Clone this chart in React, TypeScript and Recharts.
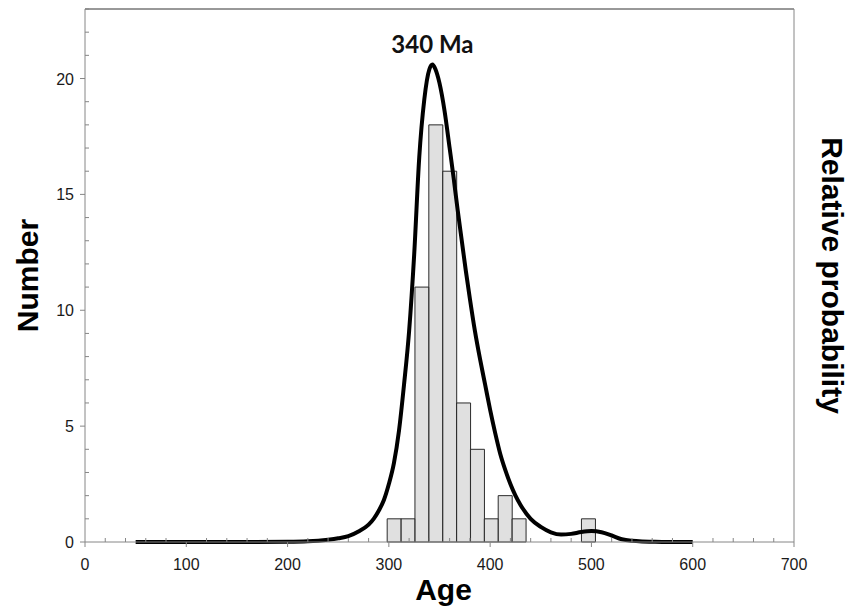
import { ComposedChart, Bar, Line, XAxis, YAxis, ReferenceDot, ReferenceLine } from "recharts";

// histogram bins (bin centre age, Ma) and counts
const binCenters = [305.2, 318.9, 332.6, 346.3, 360.0, 373.7, 387.4, 401.1, 414.8, 428.5, 497.0];
const binCounts = [1, 1, 11, 18, 16, 6, 4, 1, 2, 1, 1];

// probability density curve (scaled to the count axis)
const curveAges = [
    50, 100, 150, 200, 220, 240, 250, 260, 270, 280, 285, 290, 295, 300, 305, 310, 315, 320, 325, 330,
    335, 340, 343, 346, 350, 355, 360, 364, 368, 372, 376, 380, 385, 390, 395, 400, 405, 410, 415, 420,
    425, 430, 440, 450, 460, 470, 480, 490, 500, 510, 520, 530, 540, 550, 560, 575, 600,
];
const curveValues = [
    0, 0, 0, 0.01, 0.03, 0.1, 0.16, 0.25, 0.45, 0.75, 1.0, 1.35, 1.8, 2.5, 3.4, 4.8, 6.8, 9.1, 12.4, 16.6,
    19.1, 20.4, 20.6, 20.4, 19.8, 18.6, 17.0, 15.7, 14.3, 13.0, 11.7, 10.5, 9.1, 7.9, 6.8, 5.7, 4.7, 3.8, 3.1, 2.5,
    2.0, 1.6, 1.0, 0.65, 0.42, 0.32, 0.35, 0.43, 0.47, 0.42, 0.28, 0.12, 0.05, 0.02, 0.01, 0, 0,
];

const xTicks = [
    0, 20, 40, 60, 80, 100, 120, 140, 160, 180, 200, 220, 240, 260, 280, 300, 320, 340,
    360, 380, 400, 420, 440, 460, 480, 500, 520, 540, 560, 580, 600, 620, 640, 660, 680, 700,
];
const yTicks = [0, 1, 2, 3, 4, 5, 6, 7, 8, 9, 10, 11, 12, 13, 14, 15, 16, 17, 18, 19, 20, 21, 22, 23];

const peakLabel = "340 Ma";

const histData = binCenters.map((age, i) => ({ age, count: binCounts[i] }));
const curveData = curveAges.map((age, i) => ({ age, prob: curveValues[i] }));

const FONT = "'Liberation Sans', Arial, sans-serif";
const AXIS = "#868686";

function XTick(props: any) {
    const { x, y, payload } = props;
    const major = payload.value % 100 === 0;
    return (
        <g>
            <line x1={x} x2={x} y1={y} y2={major ? y + 5 : y - 4} stroke={AXIS} />
            {major && (
                <text x={x} y={y + 28} textAnchor="middle" fontSize={16} fontFamily={FONT} fill="#1a1a1a">
                    {payload.value}
                </text>
            )}
        </g>
    );
}

function YTick(props: any) {
    const { x, y, payload } = props;
    const major = payload.value % 5 === 0;
    return (
        <g>
            <line x1={x} x2={major ? x - 5 : x + 4} y1={y} y2={y} stroke={AXIS} />
            {major && (
                <text x={x - 11} y={y + 6} textAnchor="end" fontSize={16} fontFamily={FONT} fill="#1a1a1a">
                    {payload.value}
                </text>
            )}
        </g>
    );
}

const titleStyle = { fontSize: 30, fontWeight: 700, fontFamily: FONT, fill: "#000" };

export default function App() {
    return (
        <div style={{ position: "absolute", left: 0, top: 0 }}>
            <ComposedChart
                width={851}
                height={608}
                data={histData}
                barCategoryGap={0}
                barGap={0}
                margin={{ top: 9, right: 0, bottom: 0, left: 0 }}
            >
                <XAxis
                    dataKey="age"
                    type="number"
                    domain={[0, 700]}
                    ticks={xTicks}
                    interval={0}
                    tickSize={0}
                    tickMargin={0}
                    tickLine={false}
                    axisLine={{ stroke: AXIS }}
                    tick={<XTick />}
                    height={66}
                    label={(p: any) => {
                        const vb = p.viewBox ?? { x: 85, y: 542, width: 709 };
                        return (
                            <text x={vb.x + vb.width / 2 + 4} y={vb.y + 58} textAnchor="middle" {...titleStyle}>
                                Age
                            </text>
                        );
                    }}
                />
                <XAxis xAxisId="curve" dataKey="age" type="number" domain={[0, 700]} hide />
                <YAxis
                    yAxisId="left"
                    domain={[0, 23]}
                    ticks={yTicks}
                    interval={0}
                    tickSize={0}
                    tickMargin={0}
                    tickLine={false}
                    axisLine={{ stroke: AXIS }}
                    tick={<YTick />}
                    width={85}
                    label={(p: any) => {
                        const vb = p.viewBox ?? { x: 0, y: 9, height: 533 };
                        const cy = vb.y + vb.height / 2;
                        return (
                            <text x={38} y={cy} textAnchor="middle" transform={`rotate(-90 38 ${cy})`} {...titleStyle}>
                                Number
                            </text>
                        );
                    }}
                />
                <YAxis
                    yAxisId="right"
                    orientation="right"
                    domain={[0, 23]}
                    tick={false}
                    tickLine={false}
                    axisLine={{ stroke: AXIS }}
                    width={57}
                    label={(p: any) => {
                        const vb = p.viewBox ?? { x: 794, y: 9, height: 533 };
                        const cx = vb.x + 28;
                        const cy = vb.y + vb.height / 2;
                        return (
                            <text x={cx} y={cy} textAnchor="middle" transform={`rotate(90 ${cx} ${cy})`} {...titleStyle}>
                                Relative probability
                            </text>
                        );
                    }}
                />
                <ReferenceLine yAxisId="left" y={23} stroke="#333" strokeWidth={1} />
                <Line
                    xAxisId="curve"
                    yAxisId="right"
                    data={curveData}
                    dataKey="prob"
                    type="monotone"
                    stroke="#000"
                    strokeWidth={4}
                    dot={false}
                    activeDot={false}
                    isAnimationActive={false}
                />
                <Bar
                    yAxisId="left"
                    dataKey="count"
                    fill="#cccccc"
                    fillOpacity={0.6}
                    stroke="#2b2b2b"
                    strokeWidth={1}
                    isAnimationActive={false}
                />
                <ReferenceDot
                    xAxisId="curve"
                    yAxisId="right"
                    x={343}
                    y={20.6}
                    r={0}
                    fill="none"
                    stroke="none"
                    label={{
                        value: peakLabel,
                        position: "top",
                        offset: 12,
                        fontSize: 24,
                        fontWeight: 700,
                        fontFamily: "Lato, 'Open Sans', sans-serif",
                        fill: "#111",
                    }}
                />
            </ComposedChart>
        </div>
    );
}
